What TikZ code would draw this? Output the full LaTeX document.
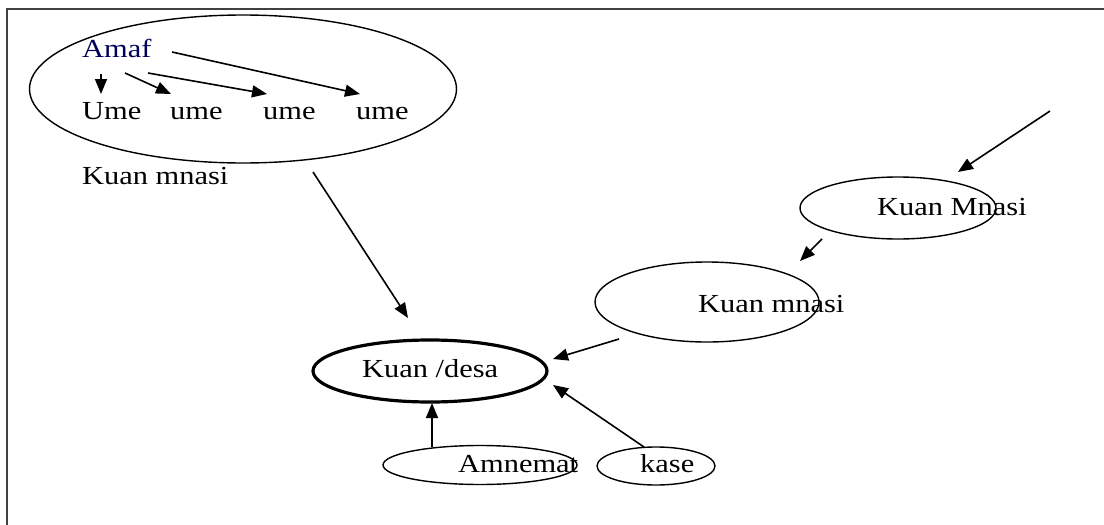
\documentclass[tikz,border=0pt]{standalone}
\usepackage{fontspec}
\setmainfont{Liberation Serif}[FakeStretch=1.17]
\usetikzlibrary{shapes.geometric,arrows.meta}
\tikzset{
  ell/.style={draw, ellipse, line width=1.4pt, inner sep=0pt},
  thickell/.style={draw, ellipse, line width=3.2pt, inner sep=0pt},
  lbl/.style={anchor=base west, inner sep=0pt, font=\fontsize{26}{28}\selectfont},
  arr/.style={-{Triangle[length=15pt,width=12pt]}, line width=1.6pt},
}
\begin{document}
\begin{tikzpicture}[x=1pt,y=-1pt]
\useasboundingbox (0,0) rectangle (1104,525);
\draw[line width=2.2pt, black!75] (7,525) -- (7,9) -- (1104,9);
% ellipses
\node[ell, minimum width=427pt, minimum height=148pt] (big) at (243,89) {};
\node[thickell, minimum width=234pt, minimum height=62pt] (desa) at (430,371) {};
\node[ell, minimum width=194pt, minimum height=39pt] (amn) at (480,465) {};
\node[ell, minimum width=118pt, minimum height=38pt] (kase) at (656,466) {};
\node[ell, minimum width=224pt, minimum height=80pt] (mid) at (707,302) {};
\node[ell, minimum width=196pt, minimum height=62pt] (up) at (898,208) {};
% labels
\node[lbl, text=blue!35!black] (amaf) at (82,57) {Amaf};
\node[lbl] (u1) at (82,119) {Ume};
\node[lbl] (u2) at (170,119) {ume};
\node[lbl] (u3) at (263,119) {ume};
\node[lbl] (u4) at (356,119) {ume};
\node[lbl] (km1) at (82,184) {Kuan mnasi};
\node[lbl] (kd) at (362,377) {Kuan /desa};
\node[lbl] (amt) at (458,472) {Amnemat};
\node[lbl] (ks) at (640,472) {kase};
\node[lbl] (km2) at (698,312) {Kuan mnasi};
\node[lbl] (km3) at (877,215) {Kuan Mnasi};
% connector end points
\coordinate (a1s) at (101,74); \coordinate (a1e) at (101,94);
\coordinate (a2s) at (125,73); \coordinate (a2e) at (171,94);
\coordinate (a3s) at (148,73); \coordinate (a3e) at (267,94);
\coordinate (a4s) at (172,52); \coordinate (a4e) at (360,94);
\coordinate (ls) at (313,172); \coordinate (le) at (408,318);
\coordinate (ms) at (619,339); \coordinate (me) at (553,359);
\coordinate (as) at (432,447); \coordinate (ae) at (432,403);
\coordinate (kss) at (644,447); \coordinate (kse) at (553,385);
\coordinate (us) at (822,239); \coordinate (ue) at (800,261);
\coordinate (ts) at (1050,111); \coordinate (te) at (958,172);
% connectors
\draw[arr] (a1s) -- (a1e);
\draw[arr] (a2s) -- (a2e);
\draw[arr] (a3s) -- (a3e);
\draw[arr] (a4s) -- (a4e);
\draw[arr] (ls) -- (le);
\draw[arr] (ms) -- (me);
\draw[arr] (as) -- (ae);
\draw[arr] (kss) -- (kse);
\draw[arr] (us) -- (ue);
\draw[arr] (ts) -- (te);
\end{tikzpicture}
\end{document}
